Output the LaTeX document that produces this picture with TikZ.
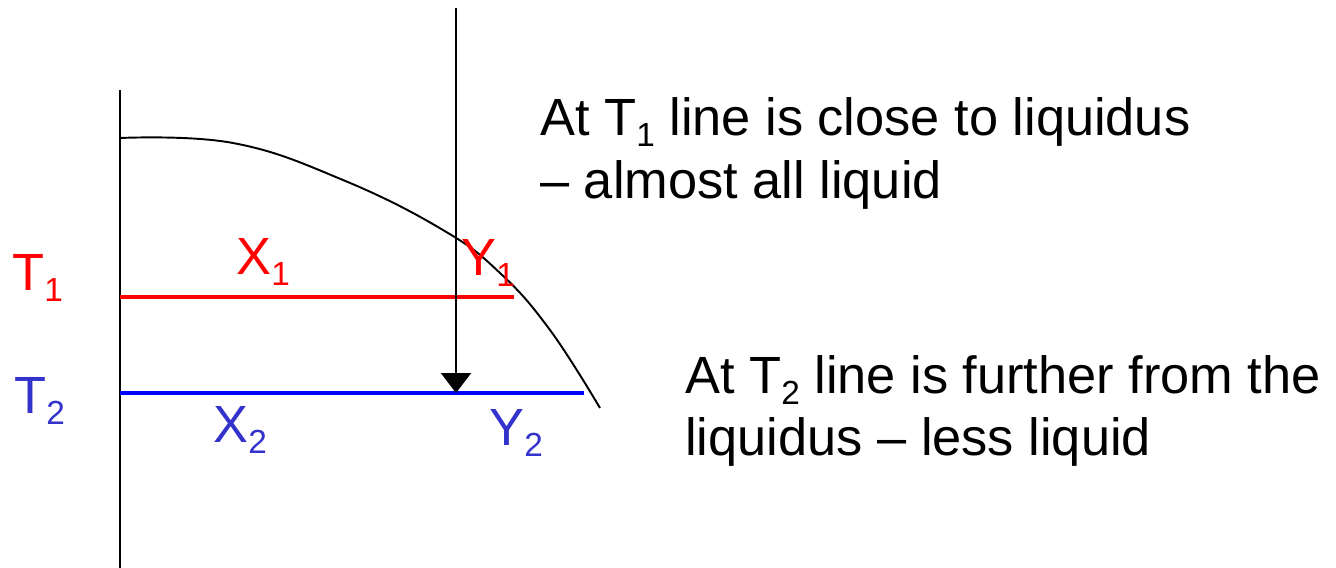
\documentclass[tikz,border=0pt]{standalone}
\usepackage{fontspec}
\setmainfont{Liberation Sans}
\usetikzlibrary{arrows.meta}
\definecolor{tred}{RGB}{255,0,0}
\definecolor{tblue}{RGB}{51,51,204}
\definecolor{lblue}{RGB}{0,0,255}
\newcommand{\mysub}[1]{\raisebox{-6.8pt}{\fontsize{19}{19}\selectfont #1}}
\tikzset{
  thin line/.style={line width=1.1pt, black},
  tie/.style={line width=2.2pt},
  lbl/.style={anchor=base west, inner sep=0pt, font=\fontsize{29.8}{35.9}\selectfont},
}
\begin{document}
\begin{tikzpicture}[x=0.02cm, y=-0.02cm]
\useasboundingbox (0,0) rectangle (1336,568);
% axis
\coordinate (axtop) at (120,90);
\coordinate (axbot) at (120,568);
\draw[thin line] (axtop) -- (axbot);
% liquidus curve
\draw[thin line] plot[smooth, tension=0.7] coordinates {(120,138) (233,143) (343,180) (443,230) (500,273) (550,330) (600,408)};
% tie lines
\coordinate (r0) at (120,297);
\coordinate (r1) at (514,297);
\coordinate (b0) at (120,393);
\coordinate (b1) at (584,393);
\draw[tie, tred] (r0) -- (r1);
\draw[tie, lblue] (b0) -- (b1);
% arrow
\coordinate (atop) at (456,8);
\coordinate (abot) at (456,393);
\draw[thin line, -{Triangle[length=0.4cm, width=0.6cm]}] (atop) -- (abot);
% labels
\node[lbl, text=tred] (T1) at (12,290) {T\mysub{1}};
\node[lbl, text=tblue] (T2) at (14,413) {T\mysub{2}};
\node[lbl, text=tred] (X1) at (236,274) {X\mysub{1}};
\node[lbl, text=tred] (Y1) at (461,275) {Y\mysub{1}};
\node[lbl, text=tblue] (X2) at (213,442) {X\mysub{2}};
\node[lbl, text=tblue] (Y2) at (489,445) {Y\mysub{2}};
% texts
\node[lbl] (L1) at (540,135) {At T\mysub{1} line is close to liquidus};
\node[lbl] (L2) at (540,198) {– almost all liquid};
\node[lbl] (L3) at (685,393) {At T\mysub{2} line is further from the};
\node[lbl] (L4) at (685,455) {liquidus – less liquid};
\end{tikzpicture}
\end{document}
